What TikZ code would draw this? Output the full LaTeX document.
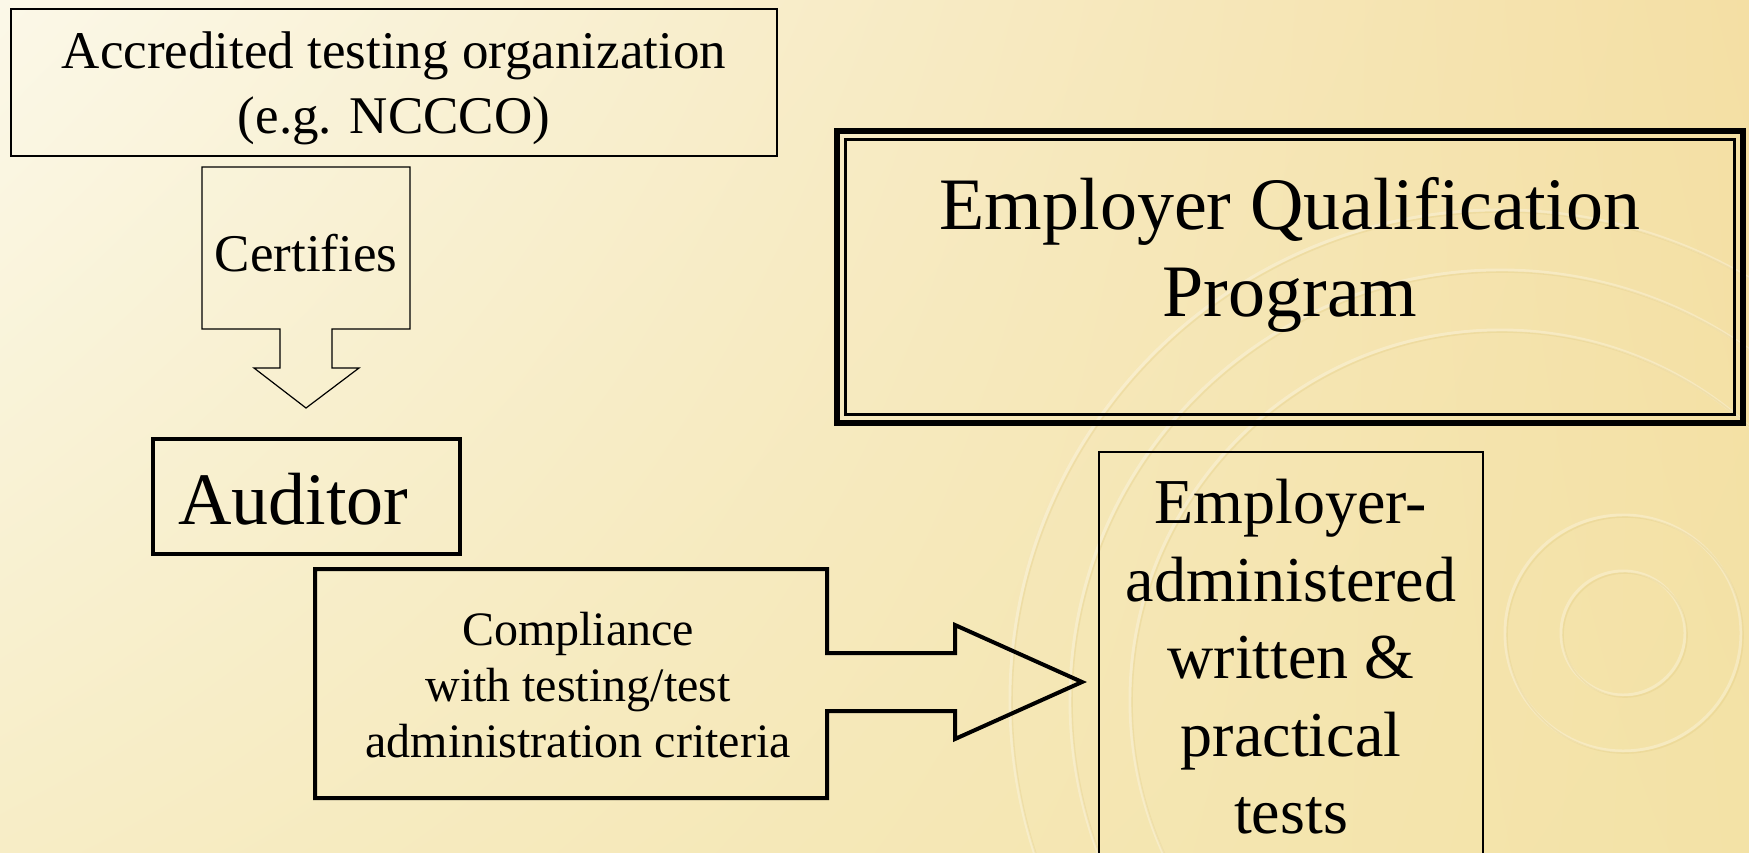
\documentclass[tikz,border=0pt]{standalone}
\usepackage{fontspec}
\setmainfont{Liberation Serif}
\usetikzlibrary{shadings}
\definecolor{bgUL}{HTML}{FBF8E8}
\definecolor{bgUR}{HTML}{F4DFA4}
\definecolor{bgLL}{HTML}{F7EDC6}
\definecolor{bgLR}{HTML}{F3E2A6}
\definecolor{sealdark}{HTML}{E0C97E}
\begin{document}
\begin{tikzpicture}[x=0.5pt,y=-0.5pt,
  thinbox/.style={draw=black,line width=0.7pt,inner sep=0pt},
  thickbox/.style={draw=black,line width=2pt,inner sep=0pt},
  blockarrow/.style={draw=black,line join=miter},
  txt/.style={inner sep=0pt,align=center,text=black},
  seallight/.style={draw=white,opacity=0.28,line width=1.5pt},
  sealshadow/.style={draw=sealdark,opacity=0.3,line width=0.8pt},
]
\useasboundingbox (0,0) rectangle (1749,852);
\clip (0,0) rectangle (1749,852);
% background
\shade[upper left=bgUL, upper right=bgUR, lower left=bgLL, lower right=bgLR] (0,0) rectangle (1749,852);
% faint seal watermark
\coordinate (sealc) at (1500,700);
\coordinate (sealin) at (1623,633);
\foreach \r in {245,215,185} {
  \draw[seallight] (sealc) circle[radius=\r pt];
  \draw[sealshadow] ([shift={(2,2)}]sealc) circle[radius=\r pt];
}
\foreach \r in {31,59} {
  \draw[seallight] (sealin) circle[radius=\r pt];
  \draw[sealshadow] ([shift={(2,2)}]sealin) circle[radius=\r pt];
}
% accredited organization box
\node[thinbox,minimum width=383pt,minimum height=73.5pt] (org) at (394,82.5) {};
\node[txt,font=\fontsize{26.5pt}{32.5pt}\selectfont] (orgtxt) at (394,88)
  {Accredited testing organization\\(e.g. NCCCO)};
% certifies block arrow
\coordinate (c1) at (202,167);
\coordinate (c2) at (410,167);
\coordinate (c3) at (410,329);
\coordinate (c4) at (332,329);
\coordinate (c5) at (332,368);
\coordinate (c6) at (359,368);
\coordinate (ctip) at (306,408);
\coordinate (c8) at (254,368);
\coordinate (c9) at (280,368);
\coordinate (c10) at (280,329);
\coordinate (c11) at (202,329);
\draw[blockarrow,line width=0.6pt] (c1) -- (c2) -- (c3) -- (c4) -- (c5) -- (c6) -- (ctip) -- (c8) -- (c9) -- (c10) -- (c11) -- cycle;
\node[txt,font=\fontsize{26.5pt}{32.5pt}\selectfont] (certtxt) at (306,253) {Certifies};
% auditor
\node[thickbox,minimum width=153.5pt,minimum height=57.5pt] (auditor) at (306.5,496.5) {};
\node[txt,font=\fontsize{37pt}{44pt}\selectfont] (audtxt) at (293.5,499) {Auditor};
% compliance block arrow
\coordinate (k1) at (315,569);
\coordinate (k2) at (827,569);
\coordinate (k3) at (827,653);
\coordinate (k4) at (955,653);
\coordinate (k5) at (955,625);
\coordinate (ktip) at (1082,682);
\coordinate (k7) at (955,739);
\coordinate (k8) at (955,711);
\coordinate (k9) at (827,711);
\coordinate (k10) at (827,798);
\coordinate (k11) at (315,798);
\draw[blockarrow,line width=2pt] (k1) -- (k2) -- (k3) -- (k4) -- (k5) -- (ktip) -- (k7) -- (k8) -- (k9) -- (k10) -- (k11) -- cycle;
\node[txt,font=\fontsize{24pt}{28pt}\selectfont] (comptxt) at (578,685)
  {Compliance\\with testing/test\\administration criteria};
% title box with triple border
\node[draw=black,line width=2pt,inner sep=0pt,minimum width=454pt,minimum height=147pt] (title) at (1290,277) {};
\draw[line width=0.7pt] ([shift={(5,5)}]title.north west) rectangle ([shift={(-5,-5)}]title.south east);
\draw[line width=1.3pt] ([shift={(11.5,11.5)}]title.north west) rectangle ([shift={(-11.5,-11.5)}]title.south east);
\node[txt,font=\fontsize{37pt}{43.5pt}\selectfont] (titletxt) at (1290,255)
  {Employer Qualification\\Program};
% employer administered tests box
\node[thinbox,minimum width=192pt,minimum height=224pt] (tests) at (1291,676) {};
\node[txt,font=\fontsize{32pt}{38.75pt}\selectfont] (teststxt) at (1291,657)
  {Employer-\\administered\\written \&\\practical\\tests};
\end{tikzpicture}
\end{document}
